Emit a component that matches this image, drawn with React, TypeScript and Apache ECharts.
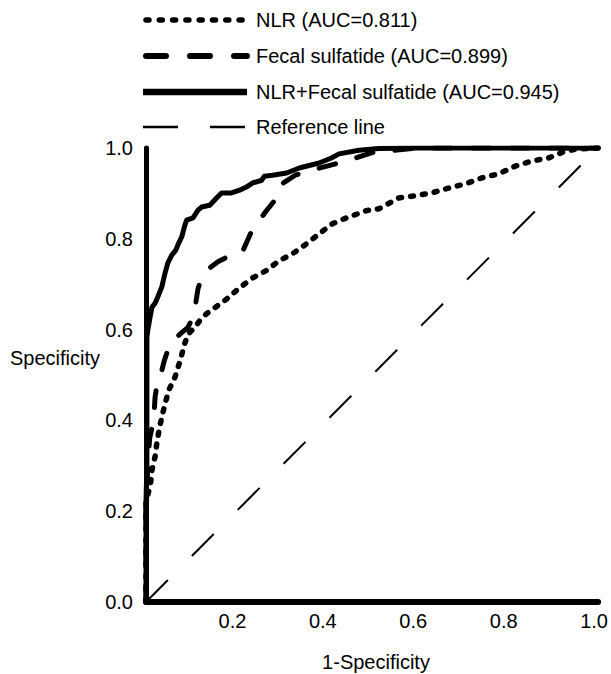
import React, { useEffect, useRef } from "react";
import * as echarts from "echarts";

const FONT = "'Liberation Sans', Arial, Helvetica, sans-serif";

const legendLabels = [
  "NLR (AUC=0.811)",
  "Fecal sulfatide (AUC=0.899)",
  "NLR+Fecal sulfatide (AUC=0.945)",
  "Reference line",
];

const axisTicks = [0, 0.2, 0.4, 0.6, 0.8, 1.0];

const nlrCurve: [number, number][] = [
  [0, 0], [0, 0.22], [0.005, 0.24], [0.01, 0.26], [0.013, 0.29], [0.02, 0.32],
  [0.024, 0.35], [0.03, 0.385], [0.038, 0.42], [0.05, 0.466], [0.064, 0.495],
  [0.075, 0.53], [0.086, 0.57], [0.093, 0.59], [0.108, 0.605], [0.119, 0.62],
  [0.134, 0.635], [0.152, 0.648], [0.178, 0.667], [0.207, 0.692], [0.236, 0.714],
  [0.266, 0.73], [0.295, 0.752], [0.324, 0.767], [0.355, 0.789], [0.383, 0.811],
  [0.412, 0.833], [0.443, 0.846], [0.487, 0.862], [0.515, 0.866], [0.559, 0.89],
  [0.597, 0.895], [0.632, 0.901], [0.67, 0.912], [0.707, 0.921], [0.742, 0.934],
  [0.78, 0.943], [0.817, 0.96], [0.852, 0.971], [0.89, 0.978], [0.927, 0.993],
  [0.956, 0.998], [1, 1],
];

const fecalCurve: [number, number][] = [
  [0, 0], [0, 0.2], [0.004, 0.3], [0.008, 0.36], [0.017, 0.4], [0.02, 0.45],
  [0.025, 0.485], [0.035, 0.51], [0.04, 0.53], [0.05, 0.56], [0.06, 0.575],
  [0.075, 0.59], [0.093, 0.605], [0.1, 0.62], [0.108, 0.645], [0.115, 0.69],
  [0.125, 0.72], [0.14, 0.735], [0.16, 0.75], [0.18, 0.76], [0.2, 0.762],
  [0.215, 0.775], [0.235, 0.82], [0.25, 0.84], [0.265, 0.86], [0.289, 0.89],
  [0.302, 0.922], [0.33, 0.94], [0.36, 0.95], [0.4, 0.96], [0.445, 0.972],
  [0.5, 0.99], [0.6, 1.0], [1, 1],
];

const combinedCurve: [number, number][] = [
  [0, 0], [0, 0.22], [0.002, 0.3], [0.002, 0.45], [0.002, 0.583], [0.004, 0.599],
  [0.009, 0.627], [0.013, 0.649], [0.02, 0.658], [0.026, 0.672], [0.035, 0.694],
  [0.042, 0.724], [0.048, 0.746], [0.057, 0.764], [0.066, 0.775], [0.072, 0.79],
  [0.079, 0.804], [0.086, 0.83], [0.09, 0.841], [0.104, 0.846], [0.115, 0.863],
  [0.123, 0.87], [0.141, 0.874], [0.156, 0.89], [0.167, 0.901], [0.189, 0.901],
  [0.207, 0.907], [0.222, 0.914], [0.236, 0.923], [0.256, 0.929], [0.262, 0.938],
  [0.28, 0.94], [0.311, 0.945], [0.339, 0.956], [0.383, 0.967], [0.41, 0.978],
  [0.427, 0.987], [0.471, 0.995], [0.515, 0.999], [0.6, 1.0], [1, 1],
];

const referenceLine: [number, number][] = [
  [0, 0], [1, 1],
];

export default function App() {
  const ref = useRef<HTMLDivElement>(null);
  useEffect(() => {
    document.body.style.margin = "0";
    if (!ref.current) return;
    const chart = echarts.init(ref.current, undefined, { renderer: "svg" });

    const legendX0 = 143;
    const legendX1 = 247;
    const rowY = [20, 56, 92, 127];
    const legendStyles = [
      { lineWidth: 5.5, lineDash: [3, 10.3], lineCap: "round" },
      { lineWidth: 6, lineDash: [20, 24], lineCap: "round" },
      { lineWidth: 6.5, lineDash: null, lineCap: "butt" },
      { lineWidth: 2.5, lineDash: [35, 32], lineCap: "butt" },
    ];
    const graphics: any[] = [];
    legendLabels.forEach((label, i) => {
      const s = legendStyles[i];
      graphics.push({
        type: "line",
        shape: { x1: legendX0 + (s.lineCap === "round" ? 3 : 0), y1: rowY[i], x2: legendX1, y2: rowY[i] },
        style: { stroke: "#000", lineWidth: s.lineWidth, lineDash: s.lineDash, lineCap: s.lineCap },
      });
      graphics.push({
        type: "text",
        x: 256,
        y: rowY[i],
        style: { text: label, fill: "#000", font: `20px ${FONT}`, verticalAlign: "middle" },
      });
    });
    graphics.push({
      type: "text",
      x: 10,
      y: 358,
      style: { text: "Specificity", fill: "#000", font: `20px ${FONT}`, verticalAlign: "middle" },
    });
    graphics.push({
      type: "text",
      x: 376,
      y: 662,
      style: { text: "1-Specificity", fill: "#000", font: `20px ${FONT}`, align: "center", verticalAlign: "middle" },
    });

    const lbl = (v: number) => v.toFixed(1);

    chart.setOption({
      animation: false,
      backgroundColor: "#fff",
      grid: { left: 146, right: 11, top: 148, bottom: 72 },
      xAxis: {
        type: "value",
        min: axisTicks[0],
        max: axisTicks[axisTicks.length - 1],
        interval: 0.2,
        axisLine: { show: true, lineStyle: { color: "#000", width: 6 } },
        axisTick: { show: false },
        splitLine: { show: false },
        axisLabel: {
          color: "#000",
          fontSize: 20,
          fontFamily: FONT,
          margin: 9,
          padding: [0, 8, 0, 0],
          formatter: (v: number) => (v === 0 ? "" : lbl(v)),
        },
      },
      yAxis: {
        type: "value",
        min: axisTicks[0],
        max: axisTicks[axisTicks.length - 1],
        interval: 0.2,
        axisLine: { show: true, lineStyle: { color: "#000", width: 5 } },
        axisTick: { show: false },
        splitLine: { show: false },
        axisLabel: {
          color: "#000",
          fontSize: 20,
          fontFamily: FONT,
          margin: 13,
          padding: [7, 0, 0, 0],
          formatter: lbl,
        },
      },
      graphic: graphics,
      series: [
        {
          name: "Reference line",
          type: "line",
          data: referenceLine,
          symbol: "none",
          silent: true,
          lineStyle: { color: "#000", width: 2, type: [31, 34] },
        },
        {
          name: "NLR (AUC=0.811)",
          type: "line",
          data: nlrCurve,
          symbol: "none",
          lineStyle: { color: "#000", width: 5.5, type: [3, 9], cap: "round", join: "round" },
        },
        {
          name: "Fecal sulfatide (AUC=0.899)",
          type: "line",
          data: fecalCurve,
          symbol: "none",
          lineStyle: { color: "#000", width: 5, type: [17, 22], cap: "round", join: "round" },
        },
        {
          name: "NLR+Fecal sulfatide (AUC=0.945)",
          type: "line",
          data: combinedCurve,
          symbol: "none",
          lineStyle: { color: "#000", width: 5, type: "solid", join: "round" },
        },
      ],
    });
    return () => chart.dispose();
  }, []);
  return <div ref={ref} style={{ width: 611, height: 674 }} />;
}
